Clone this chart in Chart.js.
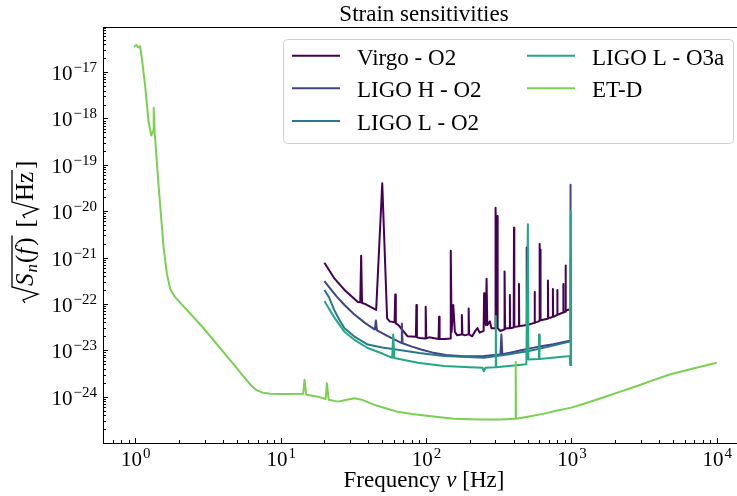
<!DOCTYPE html>
<html>
<head>
<meta charset="utf-8">
<script src="https://cdn.jsdelivr.net/npm/chart.js@4"></script>
<style>
  html, body { margin: 0; padding: 0; background: #fff; }
</style>
</head>
<body>
<canvas id="chart" width="737" height="496"></canvas>
<script>
// Series data (frequency in Hz, strain in 1/sqrt(Hz))
const seriesNames = ["Virgo - O2", "LIGO H - O2", "LIGO L - O2", "LIGO L - O3a", "ET-D"];
const seriesColors = ["#440154", "#414487", "#2a788e", "#22a884", "#7ad151"];

const virgoFreq = [20, 23.5, 27.5, 34, 35.3, 35.8, 36.3, 38, 45.4, 50, 54, 56.3, 60.8, 61.4, 62, 64.6, 74.8,
  85.2, 85.9, 86.6, 90.2, 98.5, 99.5, 100.5, 105, 122, 123, 124, 135, 146.5, 148, 150, 154, 158, 164,
  175, 176.5, 178, 185, 195, 196.5, 198, 208, 218, 226, 234, 240, 249, 251, 253, 258, 261, 264, 275,
  282, 299, 301, 305, 308, 311, 324, 345, 347, 350, 362, 376, 377.5, 379, 401, 403, 405, 414, 434, 436,
  438, 458, 490, 492, 494, 510, 557, 559, 561, 585, 603, 605, 609, 612, 615, 627, 687, 690, 693, 718,
  743, 746, 749, 775, 797, 800, 803, 843, 876, 879, 883, 909, 912, 916, 940, 965];
const virgoStrain = [7.7e-22, 3.5e-22, 2.0e-22, 1.1e-22, 1.08e-22, 1.1e-21, 1.05e-22, 1.0e-22, 7.4e-23, 4.0e-20,
  4.9e-23, 4.2e-23, 4.0e-23, 1.6e-22, 3.8e-23, 3.5e-23, 2.0e-23,
  1.95e-23, 9.5e-23, 1.9e-23, 1.84e-23, 1.8e-23, 8.7e-23, 1.8e-23, 1.9e-23, 1.75e-23, 5.3e-23, 1.75e-23,
  1.75e-23, 1.8e-23, 1.4e-21, 2.5e-23, 9.5e-23, 2.5e-23, 2.1e-23,
  2.2e-23, 5.8e-23, 2.2e-23, 2.1e-23, 2.2e-23, 8.0e-23, 2.2e-23, 2.0e-23, 2.6e-23, 3.0e-23, 2.4e-23,
  2.5e-23, 2.6e-23, 1.7e-22, 4.0e-23, 3.5e-23, 3.5e-22, 3.5e-23, 4.2e-23,
  3.0e-23, 3.0e-23, 1.18e-20, 3.0e-22, 7.9e-21, 3.0e-23, 2.6e-23, 2.8e-23, 5.0e-22, 2.9e-23, 3.0e-23,
  3.0e-23, 1.55e-22, 3.0e-23, 3.1e-23, 4.4e-21, 3.2e-23, 3.2e-23, 3.3e-23, 2.7e-22,
  3.3e-23, 3.4e-23, 3.5e-23, 1.65e-21, 3.5e-23, 3.6e-23, 3.9e-23, 1.8e-22, 4.0e-23, 4.1e-23, 4.3e-23,
  1.95e-21, 1.2e-22, 1.5e-21, 4.5e-23, 4.5e-23, 4.8e-23, 3.2e-22, 5.0e-23, 5.0e-23,
  5.3e-23, 2.1e-22, 5.3e-23, 5.5e-23, 5.8e-23, 2.0e-22, 5.8e-23, 6.2e-23, 6.5e-23, 2.7e-22, 6.5e-23,
  6.8e-23, 6.7e-22, 7.0e-23, 7.4e-23, 7.6e-23];

const ligoHFreq = [20, 22.3, 24.5, 27.5, 32, 38, 44.5, 45.2, 46, 55, 67.5, 68.2, 69, 80, 92.5, 110, 137, 180,
  251, 325, 330, 335, 400, 450, 520, 597, 600, 603, 750, 940, 982, 985, 989, 995, 1000];
const ligoHStrain = [3.1e-22, 2.0e-22, 1.4e-22, 9.5e-23, 6.0e-23, 3.9e-23, 2.8e-23, 4.4e-23, 2.7e-23, 2.0e-23,
  1.44e-23, 3.8e-23, 1.42e-23, 1.2e-23, 1.04e-23, 9.0e-24, 7.9e-24, 7.4e-24,
  7.5e-24, 8.1e-24, 2.2e-23, 8.2e-24, 9.2e-24, 1.0e-23, 1.1e-23, 1.2e-23, 2.1e-23, 1.2e-23, 1.35e-23,
  1.56e-23, 1.6e-23, 3.7e-20, 1.1e-20, 1.7e-23, 1.7e-23];

const ligoLFreq = [20, 21.5, 23.5, 25.5, 27.5, 32, 39.7, 50, 64, 90, 133, 251, 362, 500, 700, 940, 980, 986, 992, 1000];
const ligoLStrain = [2.0e-22, 1.4e-22, 7.1e-23, 4.4e-23, 3.0e-23, 2.0e-23, 1.33e-23, 1.15e-23, 1.03e-23,
  8.7e-24, 7.5e-24, 6.9e-24, 8.1e-24, 9.5e-24, 1.2e-23, 1.5e-23, 1.55e-23, 1.0e-21, 1.6e-23, 1.6e-23];

const ligoO3Freq = [20, 23.5, 27.5, 32, 39.7, 50, 58.5, 59.5, 60.5, 88, 133, 200, 245, 250, 256, 300, 302,
  304, 490, 502, 506, 597, 600, 603, 940, 975, 980, 988, 995, 1000];
const ligoO3Strain = [1.16e-22, 5.0e-23, 2.5e-23, 1.7e-23, 1.12e-23, 8.5e-24, 6.9e-24, 2.2e-23, 6.8e-24,
  5.4e-24, 4.6e-24, 4.3e-24, 4.2e-24, 3.5e-24, 4.2e-24, 4.3e-24, 5.5e-23,
  4.3e-24, 5.0e-24, 5.2e-21, 6.3e-24, 6.5e-24, 2.2e-23, 6.5e-24, 7.4e-24, 7.5e-24, 4.8e-24, 1.0e-20, 4.6e-24, 4.6e-24];

const etdFreq = [0.98, 1.0, 1.02, 1.05, 1.08, 1.11, 1.17, 1.235, 1.29, 1.33, 1.34, 1.36, 1.446, 1.566, 1.65,
  1.74, 1.88, 2.87, 4.85, 5.5, 6.3, 6.8, 7.5, 8.5, 10.7, 14.3, 14.6, 15, 18, 20.4, 20.8, 21.4, 24.8, 28,
  32.3, 36, 39.7, 45, 55, 64, 80, 98, 125, 156, 200, 251, 320, 412, 414, 416, 500, 650, 800, 1000, 1300,
  1670, 2200, 2830, 3700, 4800, 7000, 10000];
const etdStrain = [3.5e-17, 3.7e-17, 3.8e-17, 3.4e-17, 3.6e-17, 2.0e-17, 5.0e-18, 8.3e-19, 4.3e-19, 5.5e-19,
  1.7e-18, 5.1e-19, 3.7e-20, 1.65e-21, 4.5e-22,
  2.1e-22, 1.4e-22, 3.3e-23, 4.6e-24, 2.85e-24, 1.7e-24, 1.4e-24, 1.22e-24, 1.15e-24, 1.14e-24, 1.15e-24,
  2.3e-24, 1.1e-24, 1.0e-24, 8.9e-25, 1.95e-24, 8.6e-25, 7.8e-25, 8.5e-25,
  9.2e-25, 8.6e-25, 7.6e-25, 6.5e-25, 5.4e-25, 4.7e-25, 4.2e-25, 3.9e-25, 3.6e-25, 3.35e-25, 3.25e-25,
  3.2e-25, 3.22e-25, 3.35e-25, 5.6e-24, 3.35e-25, 3.7e-25, 4.3e-25, 5.0e-25, 5.8e-25, 7.5e-25,
  9.7e-25, 1.3e-24, 1.7e-24, 2.3e-24, 3.05e-24, 4.1e-24, 5.4e-24];

// axis ranges and tick decades
const xMin = 0.62, xMax = 13780;
const yMin = 1.27e-25, yMax = 9.4e-17;
const xDecades = [0, 1, 2, 3, 4];
const yDecades = [-24, -23, -22, -21, -20, -19, -18, -17];

const allFreq = [virgoFreq, ligoHFreq, ligoLFreq, ligoO3Freq, etdFreq];
const allStrain = [virgoStrain, ligoHStrain, ligoLStrain, ligoO3Strain, etdStrain];

const SERIF = '"Liberation Serif", "Times New Roman", serif';

function toPoints(fs, hs) {
  return fs.map((f, i) => ({ x: f, y: hs[i] }));
}

const datasets = seriesNames.map((name, i) => ({
  label: name,
  data: toPoints(allFreq[i], allStrain[i]),
  borderColor: seriesColors[i],
  backgroundColor: seriesColors[i],
  borderWidth: 2,
  pointRadius: 0,
  tension: 0,
  fill: false,
  borderJoinStyle: "round",
  order: seriesNames.length - i
}));

// draws "10" with a raised exponent
function powerLabel(ctx, e, x, y, align) {
  const base = "10";
  const exp = e < 0 ? "\u2212" + (-e) : String(e);
  ctx.font = "21px " + SERIF;
  const wb = ctx.measureText(base).width;
  ctx.font = "15px " + SERIF;
  const we = ctx.measureText(exp).width;
  const x0 = align === "center" ? x - (wb + we) / 2 : x - (wb + we + 1);
  ctx.font = "21px " + SERIF;
  ctx.fillText(base, x0, y);
  ctx.font = "15px " + SERIF;
  ctx.fillText(exp, x0 + wb + 1, y - 8);
}

function drawRuns(ctx, runs, x, y) {
  runs.forEach(r => {
    ctx.font = r.font;
    ctx.fillText(r.text, x, y + (r.dy || 0));
    x += ctx.measureText(r.text).width + (r.gap || 0);
  });
  return x;
}

function runsWidth(ctx, runs) {
  let w = 0;
  runs.forEach(r => { ctx.font = r.font; w += ctx.measureText(r.text).width + (r.gap || 0); });
  return w;
}

const decorations = {
  id: "decorations",
  afterDraw(chart) {
    const { ctx, chartArea: a, scales: { x, y } } = chart;
    ctx.save();
    ctx.fillStyle = "#000";
    ctx.strokeStyle = "#000";

    // frame
    ctx.lineWidth = 1;
    ctx.strokeRect(a.left + 0.5, a.top + 0.5, a.right - a.left, a.bottom - a.top);

    // inward ticks, major and minor
    ctx.beginPath();
    for (let d = -1; d <= 4; d++) {
      for (let m = 1; m <= 9; m++) {
        const v = m * Math.pow(10, d);
        if (v < xMin || v > xMax) continue;
        const px = Math.round(x.getPixelForValue(v)) + 0.5;
        ctx.moveTo(px, a.bottom);
        ctx.lineTo(px, a.bottom - (m === 1 ? 5 : 3));
      }
    }
    for (let d = -26; d <= -16; d++) {
      for (let m = 1; m <= 9; m++) {
        const v = m * Math.pow(10, d);
        if (v < yMin || v > yMax) continue;
        const py = Math.round(y.getPixelForValue(v)) + 0.5;
        ctx.moveTo(a.left, py);
        ctx.lineTo(a.left + (m === 1 ? 5 : 3), py);
      }
    }
    ctx.stroke();

    // tick labels
    ctx.textBaseline = "alphabetic";
    ctx.textAlign = "left";
    xDecades.forEach(d => {
      powerLabel(ctx, d, x.getPixelForValue(Math.pow(10, d)), a.bottom + 23, "center");
    });
    yDecades.forEach(d => {
      powerLabel(ctx, d, a.left - 6, y.getPixelForValue(Math.pow(10, d)) + 8, "right");
    });

    // title
    const fR = "23px " + SERIF, fI = "italic 23px " + SERIF;
    ctx.font = fR;
    ctx.textAlign = "center";
    ctx.fillText("Strain sensitivities", 424, 21);

    // x axis label
    ctx.textAlign = "left";
    const xRuns = [{ text: "Frequency ", font: fR }, { text: "\u03bd", font: fI }, { text: " [Hz]", font: fR }];
    drawRuns(ctx, xRuns, 424 - runsWidth(ctx, xRuns) / 2, 487);

    // y axis label: sqrt(S_n(f)) [sqrt(Hz)]
    const yR = "25px " + SERIF, yI = "italic 25px " + SERIF, ySub = "italic 17px " + SERIF;
    ctx.save();
    ctx.translate(33, 303);
    ctx.rotate(-Math.PI / 2);
    ctx.lineWidth = 1.3;
    const radical = (u0, w) => {
      ctx.beginPath();
      ctx.moveTo(u0, -8);
      ctx.lineTo(u0 + 3, -10);
      ctx.lineTo(u0 + 9, 5);
      ctx.lineTo(u0 + 16, -21);
      ctx.lineTo(u0 + 19 + w, -21);
      ctx.stroke();
      return u0 + 17;
    };
    const sRuns = [{ text: "S", font: yI, gap: 1 }, { text: "n", font: ySub, dy: 4, gap: 1 }, { text: "(", font: yR },
      { text: "f", font: yI, gap: 2 }, { text: ")", font: yR }];
    let u = radical(0, runsWidth(ctx, sRuns));
    u = drawRuns(ctx, sRuns, u, 0) + 10;
    ctx.font = yR;
    ctx.fillText("[", u, 0);
    u += ctx.measureText("[").width + 1;
    const hzRuns = [{ text: "Hz", font: yR }];
    u = radical(u, runsWidth(ctx, hzRuns));
    u = drawRuns(ctx, hzRuns, u, 0) + 3;
    ctx.font = yR;
    ctx.fillText("]", u, 0);
    ctx.restore();

    // legend, two columns inside the axes
    ctx.beginPath();
    ctx.roundRect(283.5, 39.5, 450, 104, 4);
    ctx.fillStyle = "rgba(255,255,255,0.8)";
    ctx.fill();
    ctx.strokeStyle = "#d0d0d0";
    ctx.lineWidth = 1;
    ctx.stroke();
    const colX = [292, 527];
    const rowY = [55.7, 88.3, 121];
    chart.data.datasets.forEach((ds, i) => {
      const col = i < 3 ? 0 : 1;
      const row = i < 3 ? i : i - 3;
      const lx = colX[col], ly = rowY[row];
      ctx.strokeStyle = ds.borderColor;
      ctx.lineWidth = 2;
      ctx.beginPath();
      ctx.moveTo(lx, ly);
      ctx.lineTo(lx + 48, ly);
      ctx.stroke();
      ctx.fillStyle = "#000";
      ctx.font = fR;
      ctx.fillText(ds.label, lx + 65, ly + 9);
    });
    ctx.restore();
  }
};

new Chart(document.getElementById("chart"), {
  type: "line",
  data: { datasets },
  options: {
    responsive: false,
    animation: false,
    layout: { padding: { left: 103, top: 27, right: 0, bottom: 53 } },
    plugins: { legend: { display: false }, tooltip: { enabled: false }, title: { display: false } },
    scales: {
      x: { type: "logarithmic", min: xMin, max: xMax, display: false },
      y: { type: "logarithmic", min: yMin, max: yMax, display: false }
    }
  },
  plugins: [decorations]
});
</script>
</body>
</html>
